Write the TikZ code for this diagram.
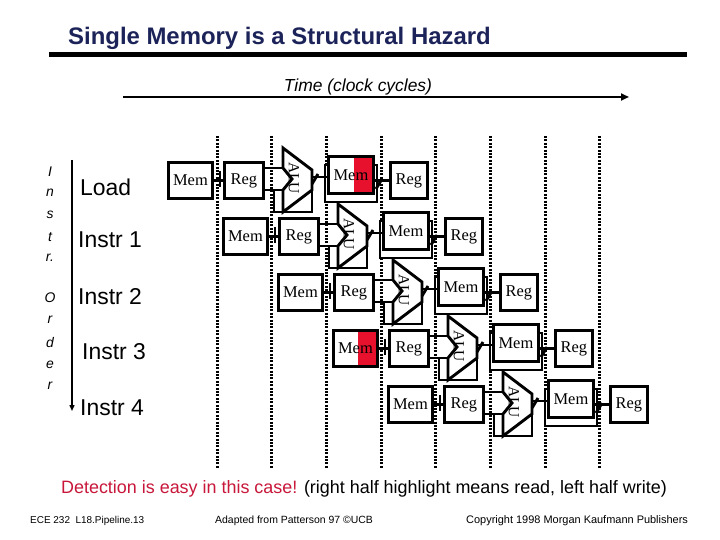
\documentclass[tikz,border=0pt]{standalone}
\usepackage{fontspec}
\setmainfont{Liberation Sans}
\newfontfamily\boxfont{Liberation Serif}
\usetikzlibrary{positioning, arrows.meta, calc}
\definecolor{titlenavy}{HTML}{1C2359}
\definecolor{hazred}{HTML}{E8112D}
\definecolor{notered}{HTML}{C8173A}

\begin{document}
\begin{tikzpicture}[x=1bp, y=-1bp,
    unit/.style={draw, line width=2.9bp, fill=white, inner sep=0pt,
                 font=\boxfont\fontsize{16.5}{17}\selectfont},
    plain/.style={},
    readhalf/.style={path picture={\fill[hazred]
        ([xshift=-19bp]path picture bounding box.north east)
        rectangle (path picture bounding box.south east);}},
    wire/.style={line width=2.9bp},
    clockline/.style={line width=3bp, dash pattern=on 2bp off 1.4bp},
    lbl/.style={font=\fontsize{23}{26}\selectfont, anchor=west, inner sep=0pt}]
  \useasboundingbox (0,0) rectangle (720,540);
  \fill[white] (0,0) rectangle (720,540);

  % Title and rule
  \node[anchor=west, inner sep=0pt, text=titlenavy,
        font=\bfseries\fontsize{24}{27}\selectfont] (title) at (68,38)
        {Single Memory is a Structural Hazard};
  \draw[line width=5bp] (49,54.5) -- (687,54.5);

  % Time axis
  \node[font=\itshape\fontsize{17.5}{20}\selectfont] (time) at (358,87) {Time (clock cycles)};
  \coordinate (t0) at (123,97);
  \coordinate (t1) at (629,97);
  \draw[line width=2.6bp, -{Triangle[length=8bp,width=7bp]}] (t0) -- (t1);

  % Clock cycle boundaries
  \foreach \k in {0,...,7}
    \draw[clockline] (217+54.7*\k,136) -- (217+54.7*\k,468);

  % Instruction order
  \foreach \ch/\yy in {I/172, n/193, s/215, t/237, r./258, O/298, r/320, d/343, e/365, r/386}
    \node[font=\itshape\fontsize{14}{14}\selectfont, inner sep=0pt] (ord\yy) at (50,\yy) {\ch};
  \coordinate (o0) at (72,160);
  \coordinate (o1) at (72,411);
  \draw[line width=1.4bp, -{Triangle[length=6bp,width=5bp]}] (o0) -- (o1);

  \node[lbl] (load) at (80,187) {Load};
  \node[lbl] (instr1) at (78,240) {Instr 1};
  \node[lbl] (instr2) at (78,297) {Instr 2};
  \node[lbl] (instr3) at (82,352) {Instr 3};
  \node[lbl] (instr4) at (80,408) {Instr 4};

  % Pipeline stages, one row per instruction
  \foreach \i/\imst/\dmst in {0/plain/readhalf, 1/plain/plain, 2/plain/plain,
                               3/readhalf/plain, 4/plain/plain} {
    \pgfmathsetmacro\xa{167+55*\i}
    \pgfmathsetmacro\ya{161+56*\i}
    \coordinate (alu\i) at (\xa+116,\ya+19);
    \coordinate (aup\i) at ($(alu\i)+(0,-12)$);
    \coordinate (alo\i) at ($(alu\i)+(0,10)$);
    \coordinate (aout\i) at ($(alu\i)+(29,-3)$);
    % ALU with its lower input box
    \draw[wire] (\xa+107,\ya+29) rectangle (\xa+145,\ya+51);
    \draw[wire, fill=white, line join=miter] (alu\i) ++(0,-32) -- ++(29,22) -- ++(0,20)
      -- ++(-29,22) -- ++(0,-22) -- ++(9,-11) -- ++(-9,-11) -- cycle;
    \node[font=\boxfont\fontsize{15.5}{16}\selectfont, rotate=-90, inner sep=0pt]
      (alut\i) at ($(alu\i)+(11,-2)$) {ALU};
    % data memory shadow
    \draw[wire, fill=white] (\xa+158,\ya+4) rectangle (\xa+210,\ya+41);
    \node[unit, \imst, minimum width=44bp, minimum height=36bp, anchor=north west]
      (im\i) at (\xa,\ya) {Mem};
    \node[unit, minimum width=39bp, minimum height=36bp, anchor=north west]
      (rf\i) at (\xa+56,\ya) {Reg};
    \node[unit, \dmst, minimum width=45bp, minimum height=37bp, anchor=north west]
      (dm\i) at (\xa+160,\ya-6) {Mem};
    \node[unit, minimum width=37bp, minimum height=36bp, anchor=north west]
      (wb\i) at (\xa+222,\ya) {Reg};
    % connections
    \draw[wire] (im\i.east) -- (rf\i.west);
    \draw[wire] (\xa+53,\ya+10) -- (\xa+53,\ya+26);
    \draw[wire] (rf\i.east |- aup\i) -- (aup\i);
    \draw[wire] (rf\i.east |- alo\i) -- (alo\i);
    \draw[wire] (aout\i) -- (aout\i -| dm\i.west);
    \draw[wire] (\xa+145,\ya+23) -- (\xa+151,\ya+13);
    \draw[wire] (wb\i.west -| dm\i.east) -- (wb\i.west);
    \draw[wire] (\xa+209,\ya+28) -- (\xa+215,\ya+18);
  }

  % Notes
  \node[font=\fontsize{18}{20}\selectfont, inner sep=0pt] (note) at (364,489)
    {\textcolor{notered}{Detection is easy in this case!} (right half highlight means read, left half write)};
  \node[anchor=west, inner sep=0pt, font=\fontsize{10}{12}\selectfont] (foot1) at (30,521) {ECE 232\ \ L18.Pipeline.13};
  \node[anchor=west, inner sep=0pt, font=\fontsize{10.5}{12}\selectfont] (foot2) at (215,521) {Adapted from Patterson 97 ©UCB};
  \node[anchor=west, inner sep=0pt, font=\fontsize{11}{12}\selectfont] (foot3) at (466,521) {Copyright 1998 Morgan Kaufmann Publishers};
\end{tikzpicture}
\end{document}
